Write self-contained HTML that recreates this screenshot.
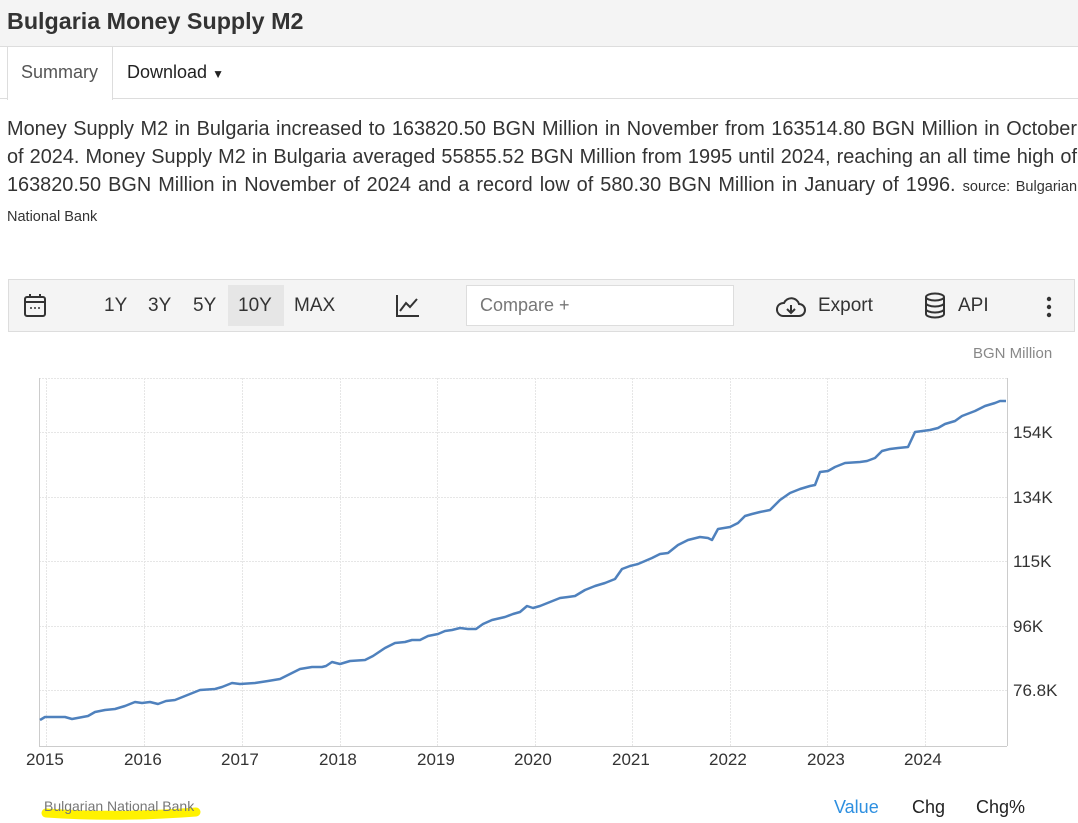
<!DOCTYPE html>
<html><head><meta charset="utf-8"><style>
*{margin:0;padding:0;box-sizing:border-box}
body{width:1078px;height:823px;background:#fff;font-family:"Liberation Sans",Arial,sans-serif;color:#333;position:relative;overflow:hidden}
.hdr{position:absolute;left:0;top:0;width:1078px;height:47px;background:#f4f4f4;border-bottom:1px solid #ddd}
.hdr h1{position:absolute;left:7px;top:8px;font-size:23.3px;font-weight:bold;color:#333}
.tabline{position:absolute;left:0;top:98px;width:1078px;height:1px;background:#ddd}
.tab1{position:absolute;left:7px;top:47px;width:106px;height:53px;background:#fff;border-left:1px solid #ddd;border-right:1px solid #ddd;font-size:18px;color:#555;padding:15px 0 0 13px}
.tab2{position:absolute;left:127px;top:62px;font-size:18px;color:#222}
.desc{position:absolute;left:7px;top:115px;width:1070px;font-size:19.9px;line-height:28px;text-align:justify;color:#333}
.desc small{font-size:14.5px}
.tb{position:absolute;left:8px;top:279px;width:1067px;height:53px;background:#f4f4f4;border:1px solid #ddd}
.t{position:absolute;font-size:19px;color:#333;top:15px}
.cmp{position:absolute;left:457px;top:5px;width:268px;height:41px;background:#fff;border:1px solid #ddd;font-size:18px;color:#777;padding:9px 13px}
.sel{position:absolute;left:219px;top:5px;width:56px;height:41px;background:#e6e6e6}
.yl{position:absolute;left:1013px;font-size:17px;color:#333}
.xl{position:absolute;top:750px;font-size:17px;color:#333}
</style></head><body>
<div class="hdr"><h1>Bulgaria Money Supply M2</h1></div>
<div class="tabline"></div>
<div class="tab1">Summary</div>
<div class="tab2">Download <span style="font-size:12px">&#9660;</span></div>
<div class="desc">Money Supply M2 in Bulgaria increased to 163820.50 BGN Million in November from 163514.80 BGN Million in October of 2024. Money Supply M2 in Bulgaria averaged 55855.52 BGN Million from 1995 until 2024, reaching an all time high of 163820.50 BGN Million in November of 2024 and a record low of 580.30 BGN Million in January of 1996. <small>source: Bulgarian National Bank</small></div>
<div class="tb">
<svg style="position:absolute;left:14px;top:13px" width="26" height="26" viewBox="0 0 26 26"><rect x="2" y="4" width="20" height="19" rx="2" fill="none" stroke="#333" stroke-width="2"/><line x1="2" y1="9" x2="22" y2="9" stroke="#333" stroke-width="2"/><line x1="7" y1="1" x2="7" y2="5" stroke="#333" stroke-width="2"/><line x1="17" y1="1" x2="17" y2="5" stroke="#333" stroke-width="2"/><circle cx="8" cy="15" r="1" fill="#333"/><circle cx="12" cy="15" r="1" fill="#333"/><circle cx="16" cy="15" r="1" fill="#333"/></svg>
<div class="sel"></div>
<span class="t" style="left:95px">1Y</span><span class="t" style="left:139px">3Y</span><span class="t" style="left:184px">5Y</span><span class="t" style="left:229px">10Y</span><span class="t" style="left:285px">MAX</span>
<svg style="position:absolute;left:386px;top:13px" width="26" height="26"><polyline points="2,2 2,23 24,23" fill="none" stroke="#333" stroke-width="2"/><polyline points="5,18 11,10 15,14 22,6" fill="none" stroke="#333" stroke-width="2"/></svg>
<div class="cmp">Compare +</div>
<svg style="position:absolute;left:766px;top:14px" width="32" height="26"><path d="M8 22 H24 A6 6 0 0 0 24 10 A8 8 0 0 0 9 9 A6.5 6.5 0 0 0 8 22Z" fill="none" stroke="#333" stroke-width="2"/><line x1="16" y1="11" x2="16" y2="19" stroke="#333" stroke-width="2"/><polyline points="12,15 16,19 20,15" fill="none" stroke="#333" stroke-width="2"/></svg>
<span class="t" style="left:809px">Export</span>
<svg style="position:absolute;left:914px;top:12px" width="24" height="28"><ellipse cx="12" cy="5" rx="9" ry="3.5" fill="none" stroke="#333" stroke-width="2"/><path d="M3 5 V22 A9 3.5 0 0 0 21 22 V5 M3 11 A9 3.5 0 0 0 21 11 M3 17 A9 3.5 0 0 0 21 17" fill="none" stroke="#333" stroke-width="2"/></svg>
<span class="t" style="left:949px">API</span>
<svg style="position:absolute;left:1036px;top:16px" width="8" height="22"><circle cx="4" cy="3" r="2.2" fill="#333"/><circle cx="4" cy="11" r="2.2" fill="#333"/><circle cx="4" cy="19" r="2.2" fill="#333"/></svg>
</div>
<div style="position:absolute;left:973px;top:345px;font-size:15px;color:#888">BGN Million</div>
<svg style="position:absolute;left:0;top:0" width="1078" height="823">
<g stroke="#e6e6e6" stroke-width="1" stroke-dasharray="2,1">
<line x1="39" y1="378.5" x2="1007" y2="378.5"/>
<line x1="39" y1="432.5" x2="1007" y2="432.5"/><line x1="39" y1="497.5" x2="1007" y2="497.5"/><line x1="39" y1="561.5" x2="1007" y2="561.5"/><line x1="39" y1="626.5" x2="1007" y2="626.5"/><line x1="39" y1="690.5" x2="1007" y2="690.5"/>
<line x1="46.5" y1="378" x2="46.5" y2="746"/><line x1="144.5" y1="378" x2="144.5" y2="746"/><line x1="242.5" y1="378" x2="242.5" y2="746"/><line x1="340.5" y1="378" x2="340.5" y2="746"/><line x1="437.5" y1="378" x2="437.5" y2="746"/><line x1="535.5" y1="378" x2="535.5" y2="746"/><line x1="632.5" y1="378" x2="632.5" y2="746"/><line x1="730.5" y1="378" x2="730.5" y2="746"/><line x1="827.5" y1="378" x2="827.5" y2="746"/><line x1="925.5" y1="378" x2="925.5" y2="746"/>
</g>
<line x1="39.5" y1="378" x2="39.5" y2="746" stroke="#ccc"/>
<line x1="1007.5" y1="378" x2="1007.5" y2="746" stroke="#ccc"/>
<line x1="39" y1="746.5" x2="1007" y2="746.5" stroke="#ccc"/>
<polyline fill="none" stroke="#4f81bd" stroke-width="2.5" stroke-linejoin="round" points="40,720 45,717 65,717 72,719 88,716 95,712 105,710 115,709 125,706 135,702 142,703 150,702 158,704 166,701 175,700 185,696 195,692 200,690 215,689 222,687 232,683 240,684 255,683 268,681 280,679 290,674 300,669 312,667 322,667 326,666 332,662 340,664 350,661 365,660 373,656 385,648 395,643 405,642 412,640 420,640 428,636 438,634 445,631 452,630 460,628 468,629 476,629 483,624 492,620 505,617 513,614 520,612 527,606 533,608 540,606 550,602 560,598 568,597 575,596 585,590 595,586 605,583 615,579 622,569 630,566 638,564 645,561 652,558 660,554 668,553 678,545 688,540 700,537 708,538 712,540 718,529 730,527 738,523 745,516 752,514 760,512 770,510 780,500 790,493 800,489 810,486 815,485 820,472 828,471 835,467 845,463 860,462 867,461 875,458 882,451 890,449 898,448 908,447 915,432 930,430 938,428 945,424 955,421 962,416 975,411 985,406 995,403 1000,401 1006,401"/>
<path d="M46 813 Q120 818 196 812" stroke="#fff200" stroke-width="9" fill="none" stroke-linecap="round"/>
</svg>
<div class="yl" style="top:423px">154K</div><div class="yl" style="top:488px">134K</div><div class="yl" style="top:552px">115K</div><div class="yl" style="top:617px">96K</div><div class="yl" style="top:681px">76.8K</div>
<div class="xl" style="left:26px">2015</div><div class="xl" style="left:124px">2016</div><div class="xl" style="left:221px">2017</div><div class="xl" style="left:319px">2018</div><div class="xl" style="left:417px">2019</div><div class="xl" style="left:514px">2020</div><div class="xl" style="left:612px">2021</div><div class="xl" style="left:709px">2022</div><div class="xl" style="left:807px">2023</div><div class="xl" style="left:904px">2024</div>
<div style="position:absolute;left:44px;top:798px;font-size:14px;color:#777">Bulgarian National Bank</div>
<div style="position:absolute;left:834px;top:797px;font-size:18px;color:#2d8fe0">Value</div>
<div style="position:absolute;left:912px;top:797px;font-size:18px;color:#222">Chg</div>
<div style="position:absolute;left:976px;top:797px;font-size:18px;color:#222">Chg%</div>
</body></html>
